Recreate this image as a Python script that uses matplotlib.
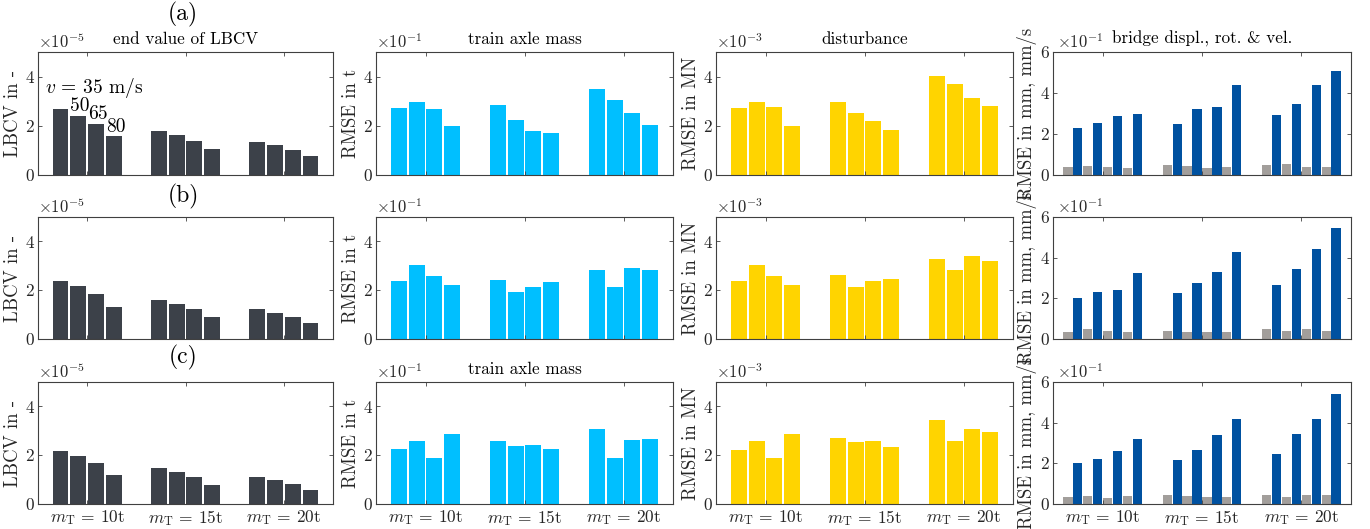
"""
Grouped RMSE / LBCV bar charts for three estimation cases (a), (b), (c).
"""

import numpy as np
import matplotlib.pyplot as plt

plt.rcParams["font.family"] = ["cmr10", "DejaVu Serif"]
plt.rcParams["mathtext.fontset"] = "cm"
plt.rcParams["axes.formatter.use_mathtext"] = True
plt.rcParams["axes.unicode_minus"] = False

group_labels = [r"$m_{\mathrm{T}}$ = 10t", r"$m_{\mathrm{T}}$ = 15t", r"$m_{\mathrm{T}}$ = 20t"]
speed_labels = ["50", "65", "80"]

# values in units of the exponent shown above each axis
# rows: mT = 10t, 15t, 20t ; columns: v = 35, 50, 65, 80 m/s
lbcv_a = [[2.69, 2.41, 2.08, 1.58], [1.80, 1.62, 1.39, 1.05], [1.35, 1.21, 1.03, 0.79]]
lbcv_b = [[2.38, 2.16, 1.84, 1.32], [1.59, 1.44, 1.23, 0.89], [1.21, 1.08, 0.92, 0.67]]
lbcv_c = [[2.18, 1.96, 1.66, 1.17], [1.46, 1.31, 1.10, 0.78], [1.09, 0.98, 0.83, 0.59]]

mass_a = [[2.73, 2.97, 2.69, 2.01], [2.84, 2.24, 1.77, 1.71], [3.50, 3.06, 2.54, 2.04]]
mass_b = [[2.37, 3.04, 2.59, 2.21], [2.42, 1.92, 2.12, 2.34], [2.84, 2.15, 2.90, 2.84]]
mass_c = [[2.24, 2.57, 1.88, 2.87], [2.57, 2.37, 2.41, 2.26], [3.09, 1.88, 2.63, 2.65]]

dist_a = [[2.71, 2.98, 2.75, 2.01], [2.98, 2.52, 2.20, 1.82], [4.04, 3.69, 3.12, 2.80]]
dist_b = [[2.36, 3.03, 2.59, 2.22], [2.62, 2.14, 2.36, 2.47], [3.27, 2.81, 3.41, 3.21]]
dist_c = [[2.23, 2.59, 1.89, 2.87], [2.69, 2.53, 2.59, 2.35], [3.43, 2.59, 3.09, 2.94]]

# bridge: displacement/rotation (gray) and velocity (blue)
bridge_disp_a = [[0.41, 0.44, 0.41, 0.33], [0.49, 0.44, 0.36, 0.41], [0.51, 0.54, 0.41, 0.39]]
bridge_vel_a = [[2.30, 2.55, 2.89, 2.99], [2.50, 3.23, 3.33, 4.38], [2.91, 3.46, 4.41, 5.06]]
bridge_disp_b = [[0.36, 0.48, 0.41, 0.36], [0.41, 0.34, 0.36, 0.36], [0.48, 0.39, 0.48, 0.41]]
bridge_vel_b = [[2.03, 2.30, 2.39, 3.25], [2.26, 2.75, 3.31, 4.28], [2.66, 3.43, 4.43, 5.44]]
bridge_disp_c = [[0.34, 0.39, 0.31, 0.39], [0.42, 0.39, 0.36, 0.36], [0.46, 0.36, 0.44, 0.42]]
bridge_vel_c = [[2.01, 2.19, 2.61, 3.18], [2.16, 2.68, 3.38, 4.20], [2.47, 3.44, 4.16, 5.39]]

col_titles = ["end value of LBCV", "train axle mass", "disturbance", "bridge displ., rot. & vel."]
col_ylabels = ["LBCV in -", "RMSE in t", "RMSE in MN", "RMSE in mm, mm/s"]
col_exponents = ["-5", "-1", "-3", "-1"]

C_LBCV = "#3c4149"
C_MASS = "#00bfff"
C_DIST = "#ffd400"
C_DISP = "#a29e9b"
C_VEL = "#0051a0"
AX_COLOR = "#404040"

W, H = 1370, 529
col_left = [38, 376, 716, 1053]
col_right = [333, 673, 1013, 1351]
row_top = [52, 217, 382]
row_bot = [175, 339, 504]


def make_ax(fig, r, c):
    l, rt = col_left[c], col_right[c]
    t, b = row_top[r], row_bot[r]
    ax = fig.add_axes([l / W, 1 - b / H, (rt - l) / W, (b - t) / H])
    return ax


def style_ax(ax, c, r, ymax):
    ax.set_xlim(0.5, 3.5)
    ax.set_ylim(0, ymax)
    ax.set_xticks([1, 2, 3])
    if r == 2:
        ax.set_xticklabels(group_labels)
    else:
        ax.set_xticklabels([])
    ax.set_yticks(np.arange(0, ymax + 0.1, 2))
    ax.set_yticklabels([str(int(v)) for v in np.arange(0, ymax + 0.1, 2)])
    ax.tick_params(direction="in", length=3, width=0.6, color=AX_COLOR,
                   labelcolor="#262626", labelsize=12.5, top=True, right=True, pad=3)
    for sp in ax.spines.values():
        sp.set_color(AX_COLOR)
        sp.set_linewidth(0.8)
    ax.set_ylabel(col_ylabels[c], fontsize=13.5, color="#262626", labelpad=2)
    ax.text(0.0 if c < 3 else 0.012, 1.012, r"$\times10^{%s}$" % col_exponents[c],
            transform=ax.transAxes, ha="left", va="bottom", fontsize=12, color="#262626")


def bar_groups(ax, data, color, pitch=0.18, width=0.16):
    data = np.asarray(data)
    n = data.shape[1]
    offsets = (np.arange(n) - (n - 1) / 2) * pitch
    x = np.arange(1, data.shape[0] + 1)
    for k in range(n):
        ax.bar(x + offsets[k], data[:, k], width=width, color=color, edgecolor="none")
    return x, offsets


def bridge_groups(ax, disp, vel):
    disp = np.asarray(disp)
    vel = np.asarray(vel)
    inter = np.empty((disp.shape[0], disp.shape[1] * 2))
    inter[:, 0::2] = disp
    inter[:, 1::2] = vel
    pitch = 0.1
    offsets = (np.arange(inter.shape[1]) - (inter.shape[1] - 1) / 2) * pitch
    x = np.arange(1, inter.shape[0] + 1)
    for k in range(inter.shape[1]):
        ax.bar(x + offsets[k], inter[:, k], width=0.093,
               color=C_DISP if k % 2 == 0 else C_VEL, edgecolor="none")


fig = plt.figure(figsize=(W / 100, H / 100), dpi=100)

rows = [
    (lbcv_a, mass_a, dist_a, bridge_disp_a, bridge_vel_a),
    (lbcv_b, mass_b, dist_b, bridge_disp_b, bridge_vel_b),
    (lbcv_c, mass_c, dist_c, bridge_disp_c, bridge_vel_c),
]

for r, (lbcv, mass, dist, bdisp, bvel) in enumerate(rows):
    axes = [make_ax(fig, r, c) for c in range(4)]
    x, offs = bar_groups(axes[0], lbcv, C_LBCV)
    bar_groups(axes[1], mass, C_MASS)
    bar_groups(axes[2], dist, C_DIST)
    bridge_groups(axes[3], bdisp, bvel)
    for c, ax in enumerate(axes):
        style_ax(ax, c, r, 6 if c == 3 else 5)

    if r == 0:
        for c, ax in enumerate(axes):
            ax.set_title(col_titles[c], fontsize=12.3, pad=6)
        # speed annotations in first panel
        axes[0].text(0.57, 3.35, r"$v$ = 35 m/s", fontsize=14, ha="left", va="baseline")
        first = np.asarray(lbcv)[0]
        for k, lab in enumerate(speed_labels):
            xk = x[0] + offs[k + 1] - 0.08
            axes[0].text(xk, first[k + 1] + 0.18, lab, fontsize=14, ha="left", va="baseline")
    if r == 2:
        axes[1].set_title(col_titles[1], fontsize=12.3, pad=6)

    panel_y = [14, 196, 357][r]
    fig.text(183 / W, 1 - panel_y / H, "(%s)" % "abc"[r], fontsize=17,
             ha="center", va="center")

fig.savefig("out.png", dpi=100)
